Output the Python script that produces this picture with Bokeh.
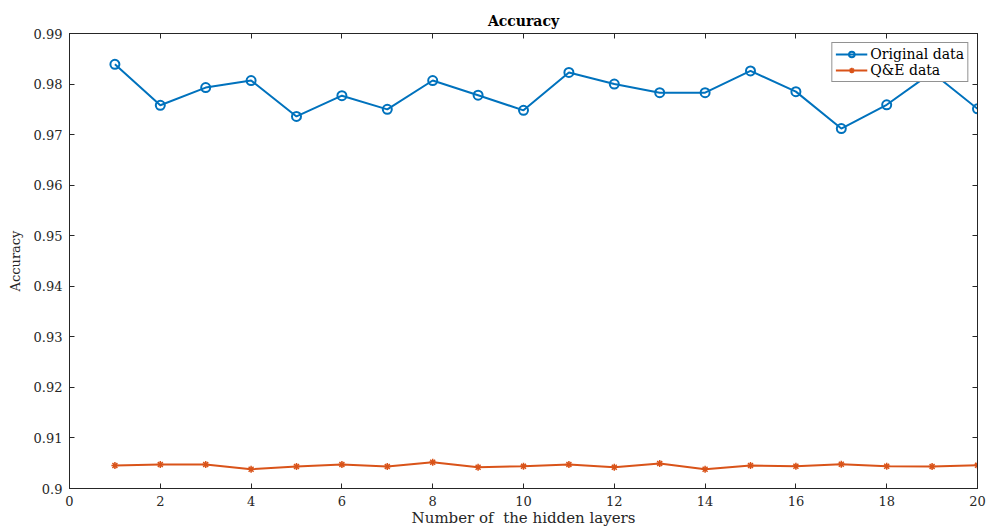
from bokeh.plotting import figure
from bokeh.models import LinearAxis, FixedTicker, Range1d, CustomJSTickFormatter
from bokeh.embed import file_html
from bokeh.resources import INLINE

# ---- data ----
layers = list(range(1, 21))
original_data = [0.9839, 0.9758, 0.9793, 0.9807, 0.9736, 0.9777, 0.9750, 0.9807, 0.9778, 0.9748,
                 0.9823, 0.9800, 0.9783, 0.9783, 0.9826, 0.9785, 0.9712, 0.9759, 0.9823, 0.9751]
qe_data = [0.90455, 0.90475, 0.90475, 0.90382, 0.90435, 0.90475, 0.90435, 0.90520, 0.90421, 0.90441,
           0.90475, 0.90421, 0.90494, 0.90382, 0.90455, 0.90441, 0.90481, 0.90441, 0.90435, 0.90461]
x_ticks = [0, 2, 4, 6, 8, 10, 12, 14, 16, 18, 20]
y_ticks = [0.90, 0.91, 0.92, 0.93, 0.94, 0.95, 0.96, 0.97, 0.98, 0.99]
y_tick_labels = ["0.9", "0.91", "0.92", "0.93", "0.94", "0.95", "0.96", "0.97", "0.98", "0.99"]
series_names = ["Original data", "Q&E data"]

FONT = "DejaVu Serif"
AX = "#262626"
BLUE = "#0072BD"
ORANGE = "#D95319"

p = figure(width=986, height=529, output_backend="svg", toolbar_location=None,
           x_range=Range1d(0, 20), y_range=Range1d(0.9, 0.99),
           min_border_left=69, min_border_right=9, min_border_top=33, min_border_bottom=41,
           title="Accuracy")
p.grid.visible = False
p.outline_line_color = AX
p.outline_line_width = 1

p.title.align = "center"
p.title.text_font = FONT
p.title.text_font_size = "14px"
p.title.text_font_style = "bold"
p.title.text_color = "#000000"
p.title.standoff = 10

def style_axis(ax, labels=True):
    ax.axis_line_color = AX
    ax.major_tick_line_color = AX
    ax.major_tick_in = 5
    ax.major_tick_out = 0
    ax.minor_tick_line_color = None
    ax.major_label_text_font = FONT
    ax.major_label_text_font_size = "13px"
    ax.major_label_text_color = AX
    ax.axis_label_text_font = FONT
    ax.axis_label_text_font_size = "13px"
    ax.axis_label_text_font_style = "normal"
    ax.axis_label_text_color = AX
    if not labels:
        ax.formatter = CustomJSTickFormatter(code="return '';")
        ax.major_label_standoff = 0

xa = p.xaxis[0]
xa.ticker = FixedTicker(ticks=x_ticks)
xa.axis_label = "Number of \u00a0the hidden layers"
style_axis(xa)
xa.major_label_standoff = 7
xa.axis_label_standoff = 0
xa.axis_label_text_font_size = "15px"

ya = p.yaxis[0]
ya.ticker = FixedTicker(ticks=y_ticks)
ya.major_label_overrides = {t: l for t, l in zip(y_ticks, y_tick_labels)}
ya.axis_label = "Accuracy"
style_axis(ya)
ya.major_label_standoff = 7
ya.axis_label_standoff = 8

top = LinearAxis(ticker=FixedTicker(ticks=x_ticks))
style_axis(top, labels=False)
p.add_layout(top, "above")
right = LinearAxis(ticker=FixedTicker(ticks=y_ticks))
style_axis(right, labels=False)
p.add_layout(right, "right")

p.line(layers, original_data, color=BLUE, line_width=2, legend_label=series_names[0])
p.scatter(layers, original_data, marker="circle", size=9, line_color=BLUE, line_width=2,
          fill_alpha=0, legend_label=series_names[0])
p.line(layers, qe_data, color=ORANGE, line_width=2, legend_label=series_names[1])
p.scatter(layers, qe_data, marker="asterisk", size=7, line_color=ORANGE, line_width=1.5,
          legend_label=series_names[1])

lg = p.legend[0]
lg.location = "top_right"
lg.margin = 9
lg.padding = 3
lg.spacing = 0
lg.glyph_width = 32
lg.glyph_height = 14
lg.label_height = 14
lg.label_standoff = 3
lg.label_text_font = FONT
lg.label_text_font_size = "14px"
lg.label_text_color = "#000000"
lg.border_line_color = AX
lg.border_line_width = 1
lg.background_fill_color = "white"
lg.background_fill_alpha = 1

open("out.html", "w").write(file_html(p, INLINE))
